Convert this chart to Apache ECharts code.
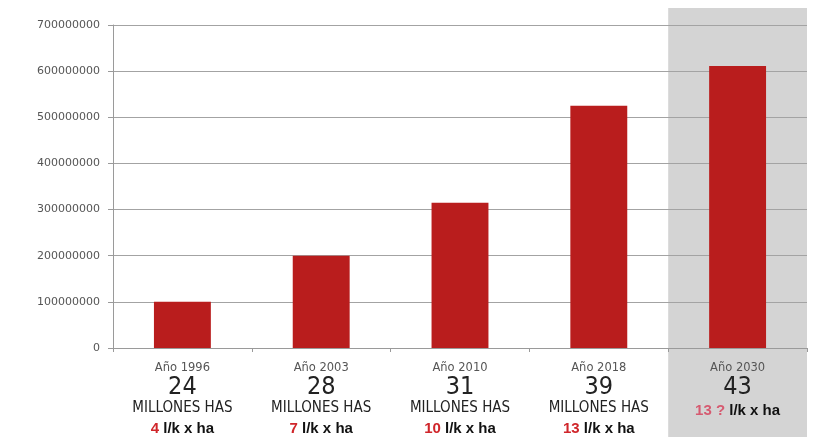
<!DOCTYPE html>
<html>
<head>
<meta charset="utf-8">
<script src="https://cdn.jsdelivr.net/npm/echarts@6/dist/echarts.min.js"></script>
<style>
  html, body { margin: 0; padding: 0; background: #ffffff; }
  #chart { width: 826px; height: 437px; }
</style>
</head>
<body>
<div id="chart"></div>
<script>
// Year categories and the plotted totals
const years = ['Año 1996', 'Año 2003', 'Año 2010', 'Año 2018', 'Año 2030'];
const totals = [100000000, 200000000, 315000000, 525000000, 611000000];
// Area (millions of hectares) and litres per hectare shown under each year
const areaMillions = ['24', '28', '31', '39', '43'];
const litresPerHa = ['4', '7', '10', '13', '13 ?'];
// The projected year gets a shaded column
const projectedYear = 'Año 2030';

const yTicks = { min: 0, max: 700000000, interval: 100000000 };

const chart = echarts.init(document.getElementById('chart'), null, { renderer: 'canvas' });

const narrow = '"Liberation Sans Narrow", "DejaVu Sans Condensed", sans-serif';

function categoryLabel(value) {
  const i = years.indexOf(value);
  const lines = ['{yr|' + value + '}', '{num|' + areaMillions[i] + '}'];
  if (value === projectedYear) {
    lines.push('{proj|' + litresPerHa[i] + ' }{projUnit|l/k x ha}');
  } else {
    lines.push('{mil|MILLONES HAS}');
    lines.push('{lit|' + litresPerHa[i] + ' }{unit|l/k x ha}');
  }
  return lines.join('\n');
}

const boldFace = '"Liberation Sans", Arial, sans-serif';

const option = {
  animation: false,
  grid: { left: 113, right: 19, top: 25, bottom: 89 },
  xAxis: {
    type: 'category',
    data: years,
    axisLine: { lineStyle: { color: '#9a9a9a', width: 1 } },
    axisTick: { show: true, alignWithLabel: false, length: 4, lineStyle: { color: '#9a9a9a' } },
    axisLabel: {
      margin: 12,
      interval: 0,
      formatter: categoryLabel,
      rich: {
        yr: { fontFamily: '"DejaVu Sans", sans-serif', fontSize: 11.5, color: '#555555', lineHeight: 16 },
        num: { fontFamily: narrow, fontSize: 25, color: '#222222', lineHeight: 22 },
        mil: { fontFamily: narrow, fontSize: 15, color: '#222222', lineHeight: 21 },
        lit: { fontFamily: boldFace, fontSize: 15, fontWeight: 'bold', color: '#d0262b', lineHeight: 20 },
        unit: { fontFamily: boldFace, fontSize: 15, fontWeight: 'bold', color: '#111111', lineHeight: 20 },
        proj: { fontFamily: boldFace, fontSize: 15, fontWeight: 'bold', color: '#d65a70', lineHeight: 26 },
        projUnit: { fontFamily: boldFace, fontSize: 15, fontWeight: 'bold', color: '#111111', lineHeight: 26 }
      }
    }
  },
  yAxis: {
    type: 'value',
    min: yTicks.min,
    max: yTicks.max,
    interval: yTicks.interval,
    axisLine: { show: true, lineStyle: { color: '#9a9a9a', width: 1 } },
    axisTick: { show: true, length: 5, lineStyle: { color: '#9a9a9a' } },
    axisLabel: {
      margin: 13,
      fontFamily: '"DejaVu Sans", sans-serif',
      fontSize: 11,
      color: '#555555',
      formatter: function (v) { return String(v); }
    },
    splitLine: { show: true, lineStyle: { color: '#a3a3a3', width: 1 } }
  },
  series: [
    {
      // shaded column behind the projected year, running from above the plot to the bottom edge
      type: 'custom',
      z: -1,
      silent: true,
      clip: false,
      data: [[years.indexOf(projectedYear), yTicks.max]],
      renderItem: function (params, api) {
        const cx = api.coord([api.value(0), 0])[0];
        const w = api.size([1, 0])[0];
        const top = params.coordSys.y - 17;
        return {
          type: 'rect',
          shape: { x: cx - w / 2, y: top, width: w, height: api.getHeight() - top },
          style: { fill: '#d4d4d4' }
        };
      }
    },
    {
      type: 'bar',
      data: totals,
      barWidth: '41%',
      itemStyle: { color: '#b91d1d' }
    }
  ]
};

chart.setOption(option);
</script>
</body>
</html>
